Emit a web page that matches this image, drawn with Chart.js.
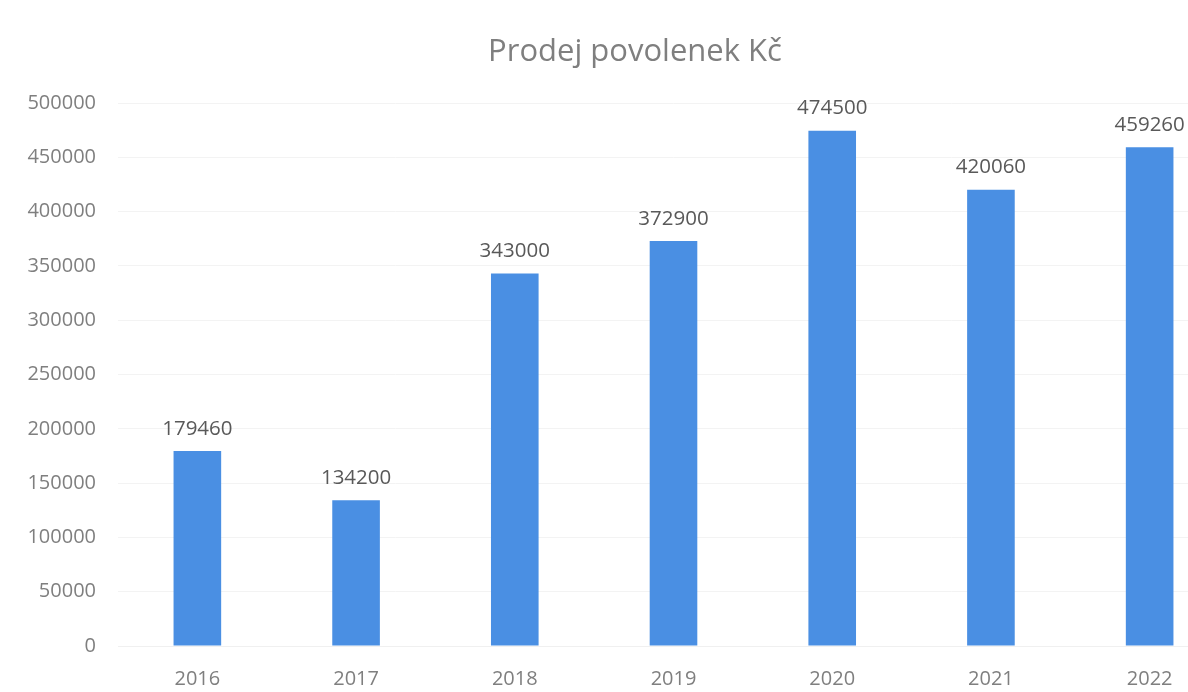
<!DOCTYPE html>
<html>
<head>
<meta charset="utf-8">
<script src="https://cdn.jsdelivr.net/npm/chart.js@4/dist/chart.umd.min.js"></script>
<style>
  html, body { margin: 0; padding: 0; background: #fff; overflow: hidden; }
  #wrap { width: 1270px; height: 692px; }
</style>
</head>
<body>
<div id="wrap"><canvas id="myChart" width="1270" height="692"></canvas></div>
<script>
const years = ["2016", "2017", "2018", "2019", "2020", "2021", "2022"];
const sales = [179460, 134200, 343000, 372900, 474500, 420060, 459260];
const yTicks = [0, 50000, 100000, 150000, 200000, 250000, 300000, 350000, 400000, 450000, 500000];
const chartTitle = "Prodej povolenek Kč";

// simple value labels above the bars
const valueLabels = {
  id: "valueLabels",
  afterDatasetsDraw(chart) {
    const c = chart.ctx;
    const meta = chart.getDatasetMeta(0);
    c.save();
    c.font = "20.5px 'Open Sans'";
    c.fillStyle = "#595959";
    c.textAlign = "center";
    c.textBaseline = "bottom";
    meta.data.forEach((bar, i) => {
      c.fillText(String(sales[i]), bar.x, bar.y - 12);
    });
    c.restore();
  },
};

// title centred over the whole canvas
const centerTitle = {
  id: "centerTitle",
  afterDraw(chart) {
    const c = chart.ctx;
    c.save();
    c.font = "31px 'Open Sans'";
    c.fillStyle = "#7f7f7f";
    c.textAlign = "center";
    c.textBaseline = "middle";
    c.fillText(chartTitle, chart.width / 2, 52);
    c.restore();
  },
};

const ctx = document.getElementById("myChart").getContext("2d");
const myChart = new Chart(ctx, {
  type: "bar",
  data: {
    labels: years,
    datasets: [
      {
        label: chartTitle,
        data: sales,
        backgroundColor: "#4a8fe3",
        barPercentage: 0.3,
        categoryPercentage: 1,
      },
    ],
  },
  options: {
    responsive: false,
    animation: false,
    layout: { padding: { left: 20, right: 41, top: 103, bottom: 0 } },
    plugins: {
      legend: { display: false },
      tooltip: { enabled: false },
      title: { display: false },
    },
    scales: {
      x: {
        grid: { display: false },
        border: { display: true, color: "#f0f0f0" },
        afterFit: (axis) => {
          axis.height = 46;
        },
        ticks: {
          color: "#7f7f7f",
          font: { family: "'Open Sans'", size: 20 },
          padding: 13,
        },
      },
      y: {
        min: 0,
        max: 500000,
        afterBuildTicks: (axis) => {
          axis.ticks = yTicks.map((v) => ({ value: v }));
        },
        afterFit: (axis) => {
          axis.width = 98;
        },
        grid: { color: "#f3f3f3", drawTicks: false },
        border: { display: false },
        ticks: {
          color: "#7f7f7f",
          font: { family: "'Open Sans'", size: 20 },
          padding: 22,
          callback: (value) => String(value),
        },
      },
    },
  },
  plugins: [valueLabels, centerTitle],
});
</script>
</body>
</html>
